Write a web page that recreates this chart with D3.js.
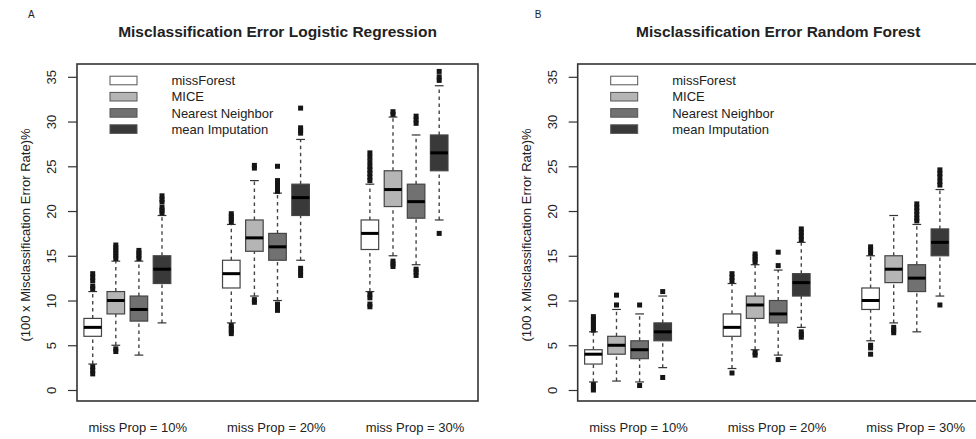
<!DOCTYPE html>
<html>
<head>
<meta charset="utf-8">
<script src="https://cdn.jsdelivr.net/npm/d3@7"></script>
<style>
  body { margin: 0; background: #fff; }
  text { font-family: "Liberation Sans", Arial, sans-serif; fill: #222; }
</style>
</head>
<body>
<svg id="chart" width="976" height="439"></svg>
<script>
// methods and groups
const methods = ['missForest', 'MICE', 'Nearest Neighbor', 'mean Imputation'];
const groups = ['miss Prop = 10%', 'miss Prop = 20%', 'miss Prop = 30%'];
const yTicks = [0, 5, 10, 15, 20, 25, 30, 35];

// box stats per group: [lower whisker, q1, median, q3, upper whisker]
// A: logistic regression
const lrMissForest = [[2.9, 6.0, 7.0, 8.0, 11.0], [7.5, 11.4, 13.0, 14.5, 18.5], [11.0, 15.7, 17.5, 19.0, 23.0]];
const lrMissForestOut = [[1.8, 2.2, 2.6, 11.3, 11.6, 12.2, 12.6, 13.0], [6.3, 6.6, 6.9, 7.2, 18.8, 19.1, 19.4, 19.7], [9.3, 9.6, 10.3, 10.7, 23.4, 23.8, 24.2, 24.6, 25.0, 25.5, 26.0, 26.5]];
const lrMice = [[5.0, 8.5, 10.0, 11.0, 14.4], [10.5, 15.5, 17.0, 19.0, 23.4], [15.0, 20.5, 22.4, 24.5, 30.5]];
const lrMiceOut = [[4.3, 4.6, 14.7, 15.0, 15.3, 15.6, 15.9, 16.2], [9.8, 10.1, 24.8, 25.1], [13.8, 14.1, 14.4, 30.8, 31.1]];
const lrNN = [[3.9, 7.7, 9.0, 10.5, 14.4], [10.0, 14.5, 16.0, 17.5, 22.0], [14.0, 19.2, 21.05, 23.0, 28.5]];
const lrNNOut = [[14.7, 15.0, 15.3, 15.6], [8.9, 9.2, 9.6, 22.2, 22.6, 23.0, 23.4, 25.0], [12.8, 13.2, 13.5, 29.8, 30.2, 30.6]];
const lrMean = [[7.5, 11.9, 13.5, 15.0, 19.5], [14.5, 19.5, 21.5, 23.0, 28.0], [19.0, 24.5, 26.5, 28.5, 34.0]];
const lrMeanOut = [[19.8, 20.1, 20.4, 21.0, 21.3, 21.7], [12.8, 13.2, 13.6, 28.7, 29.0, 29.3, 31.5], [17.5, 34.6, 35.0, 35.6]];

// B: random forest
const rfMissForest = [[0.9, 2.9, 4.0, 4.5, 6.5], [2.4, 6.0, 7.0, 8.5, 11.9], [5.5, 9.0, 10.0, 11.4, 15.0]];
const rfMissForestOut = [[0.0, 0.3, 0.6, 6.7, 7.0, 7.3, 7.6, 7.9, 8.2], [1.9, 12.2, 12.6, 13.0], [4.0, 4.7, 5.0, 15.3, 15.7, 16.0]];
const rfMice = [[1.0, 4.0, 5.0, 6.0, 9.0], [4.5, 8.0, 9.5, 10.5, 14.0], [7.5, 12.0, 13.5, 15.0, 19.5]];
const rfMiceOut = [[9.5, 10.6], [3.9, 4.2, 14.3, 14.6, 14.9, 15.2], [6.4, 6.7, 7.0]];
const rfNN = [[0.9, 3.5, 4.5, 5.5, 8.5], [3.9, 7.5, 8.5, 10.0, 13.4], [6.5, 11.0, 12.5, 14.0, 18.5]];
const rfNNOut = [[0.5, 9.5], [3.4, 13.9, 15.4], [18.9, 19.2, 19.6, 20.0, 20.4, 20.8]];
const rfMean = [[2.5, 5.5, 6.5, 7.5, 10.5], [7.0, 10.5, 12.0, 13.0, 16.5], [10.5, 15.0, 16.5, 18.0, 22.4]];
const rfMeanOut = [[1.4, 11.0], [5.9, 6.2, 6.5, 16.8, 17.2, 17.6, 18.0], [9.5, 22.9, 23.3, 23.8, 24.2, 24.6]];

const fills = ['#ffffff', '#b5b5b5', '#717171', '#393939'];

const svg = d3.select('#chart');

function drawPanel(cfg) {
  const w = 401, top = 64, bottom = 401;
  const g = svg.append('g').attr('transform', `translate(${cfg.left},0)`);

  const x = d3.scaleLinear().domain([0.32, 17.68]).range([0, w]);
  const y = d3.scaleLinear().domain([0, 35]).range([390, 76.8]);
  const bw = x(0.76) - x(0);

  // boxes
  const boxes = [];
  cfg.stats.forEach((m, mi) => {
    m.forEach((s, gi) => {
      boxes.push({ m: mi, g: gi, pos: gi * 6 + mi + 1, s: s, out: cfg.outs[mi][gi] });
    });
  });

  const b = g.selectAll('g.box').data(boxes).enter().append('g').attr('class', 'box');

  b.append('line')
    .attr('x1', d => x(d.pos)).attr('x2', d => x(d.pos))
    .attr('y1', d => y(d.s[0])).attr('y2', d => y(d.s[1]))
    .attr('stroke', '#444').attr('stroke-width', 1.4).attr('stroke-dasharray', '3.5,3.5');
  b.append('line')
    .attr('x1', d => x(d.pos)).attr('x2', d => x(d.pos))
    .attr('y1', d => y(d.s[3])).attr('y2', d => y(d.s[4]))
    .attr('stroke', '#444').attr('stroke-width', 1.4).attr('stroke-dasharray', '3.5,3.5');
  [0, 4].forEach(k => {
    b.append('line')
      .attr('x1', d => x(d.pos) - bw / 4).attr('x2', d => x(d.pos) + bw / 4)
      .attr('y1', d => y(d.s[k])).attr('y2', d => y(d.s[k]))
      .attr('stroke', '#333').attr('stroke-width', 1.2);
  });
  b.append('rect')
    .attr('x', d => x(d.pos) - bw / 2).attr('width', bw)
    .attr('y', d => y(d.s[3])).attr('height', d => y(d.s[1]) - y(d.s[3]))
    .attr('fill', d => fills[d.m]).attr('stroke', '#444').attr('stroke-width', 1.2);
  b.append('line')
    .attr('x1', d => x(d.pos) - bw / 2).attr('x2', d => x(d.pos) + bw / 2)
    .attr('y1', d => y(d.s[2])).attr('y2', d => y(d.s[2]))
    .attr('stroke', '#000').attr('stroke-width', 3);
  b.selectAll('rect.out').data(d => d.out.map(v => ({ pos: d.pos, v: v }))).enter()
    .append('rect').attr('class', 'out')
    .attr('x', d => x(d.pos) - 2.5).attr('y', d => y(d.v) - 2.5)
    .attr('width', 5).attr('height', 5).attr('fill', '#151515');

  // frame
  g.append('rect').attr('x', 0).attr('y', top).attr('width', w).attr('height', bottom - top)
    .attr('fill', 'none').attr('stroke', '#333').attr('stroke-width', 1.6);

  // y axis, labels parallel to the axis
  const ax = g.append('g').call(d3.axisLeft(y).tickValues(yTicks).tickSize(9).tickSizeOuter(0));
  ax.select('.domain').remove();
  ax.selectAll('line').attr('stroke', '#333').attr('stroke-width', 1.2);
  ax.selectAll('text')
    .attr('font-size', 13).attr('x', 0).attr('y', 0).attr('dy', 0)
    .attr('text-anchor', 'middle')
    .attr('transform', 'translate(-21,0) rotate(-90)')
    .attr('fill', '#222')
    .style('font-family', '"Liberation Sans", Arial, sans-serif');

  g.append('text')
    .attr('transform', `translate(-47,235) rotate(-90)`)
    .attr('text-anchor', 'middle').attr('font-size', 13)
    .text('(100 x Misclassification Error Rate)%');

  // group labels
  g.selectAll('text.grp').data(groups).enter().append('text').attr('class', 'grp')
    .attr('x', (d, i) => x(i * 6 + 2.5 + 0.45)).attr('y', 432)
    .attr('text-anchor', 'middle').attr('font-size', 13)
    .text(d => d);

  // title
  g.append('text').attr('x', w / 2).attr('y', 37)
    .attr('text-anchor', 'middle').attr('font-size', 15.5).attr('font-weight', 'bold')
    .text(cfg.title);
  g.append('text').attr('x', cfg.letterX).attr('y', 18).attr('font-size', 10)
    .text(cfg.letter);

  // legend
  const lg = g.selectAll('g.leg').data(methods).enter().append('g').attr('class', 'leg')
    .attr('transform', (d, i) => `translate(0,${80.5 + i * 16.2})`);
  lg.append('rect').attr('x', 33).attr('y', -4.3).attr('width', 27).attr('height', 8.6)
    .attr('fill', (d, i) => fills[i]).attr('stroke', '#555').attr('stroke-width', 1);
  lg.append('text').attr('x', 94.5).attr('y', 4.6).attr('font-size', 13).attr('fill', '#333')
    .text(d => d);
}

drawPanel({
  left: 77, title: 'Misclassification Error Logistic Regression', letter: 'A', letterX: -49,
  stats: [lrMissForest, lrMice, lrNN, lrMean],
  outs: [lrMissForestOut, lrMiceOut, lrNNOut, lrMeanOut]
});
drawPanel({
  left: 577.7, title: 'Misclassification Error Random Forest', letter: 'B', letterX: -43,
  stats: [rfMissForest, rfMice, rfNN, rfMean],
  outs: [rfMissForestOut, rfMiceOut, rfNNOut, rfMeanOut]
});
</script>
</body>
</html>
